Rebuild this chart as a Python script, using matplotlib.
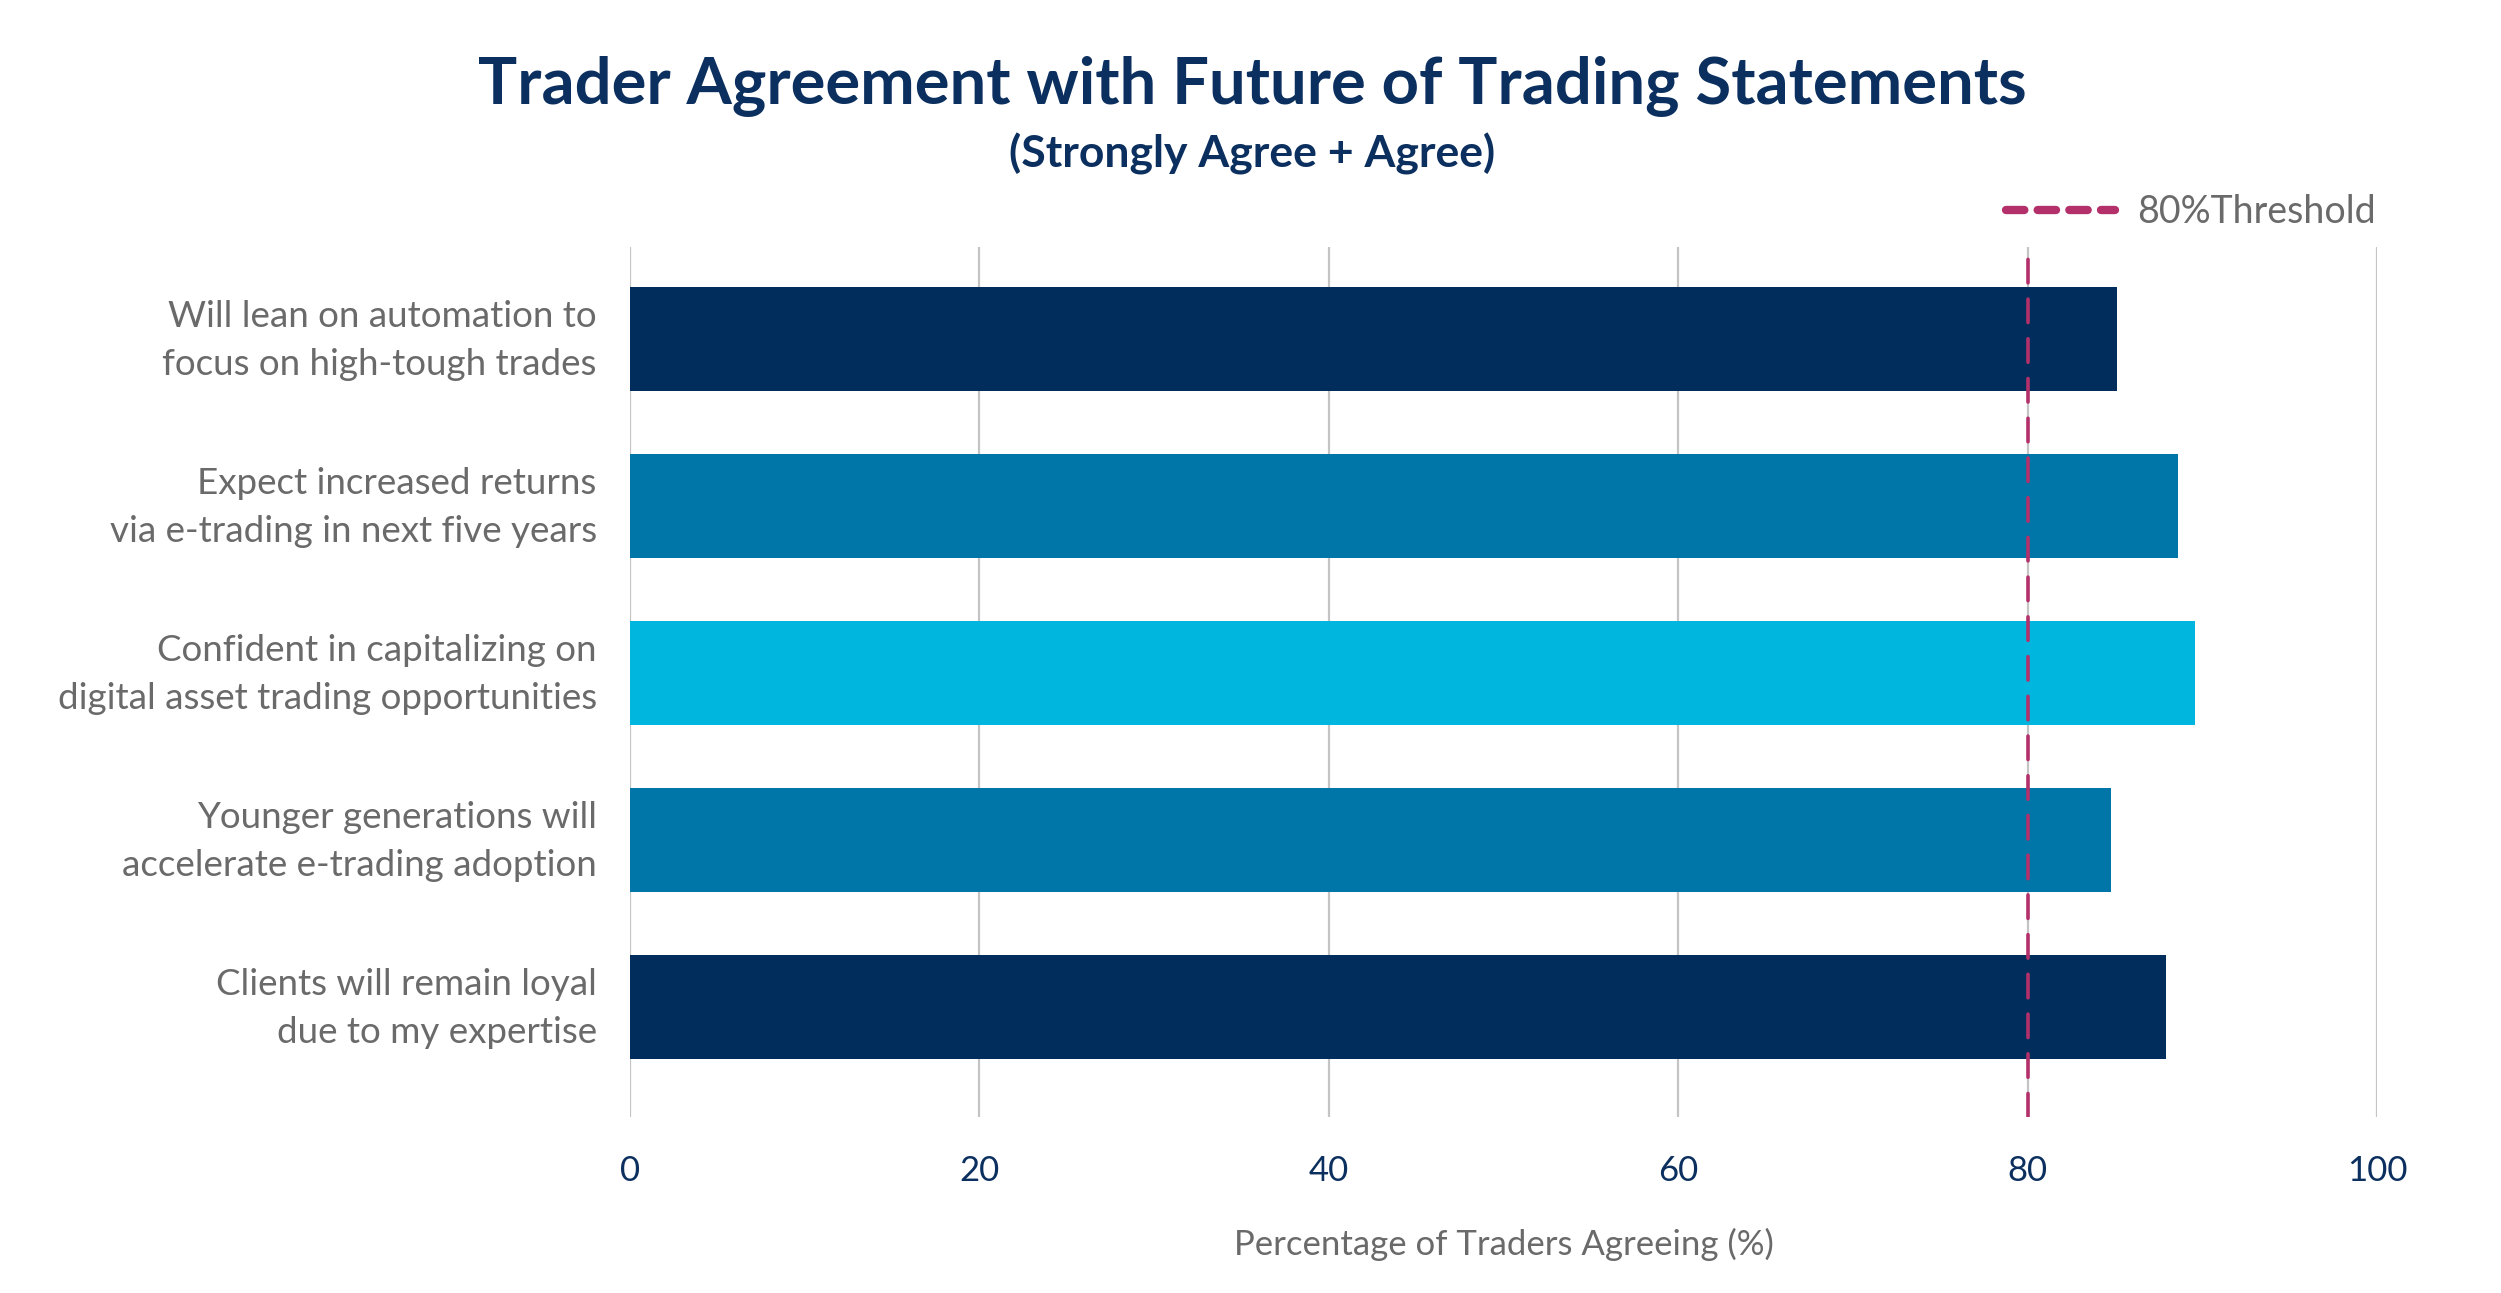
import matplotlib.pyplot as plt
import matplotlib.transforms as mtransforms
from matplotlib.lines import Line2D

plt.rcParams['font.family'] = ['Lato', 'DejaVu Sans']

# data
statements = [
    'Will lean on automation to\nfocus on high-tough trades',
    'Expect increased returns\nvia e-trading in next five years',
    'Confident in capitalizing on\ndigital asset trading opportunities',
    'Younger generations will\naccelerate e-trading adoption',
    'Clients will remain loyal\ndue to my expertise',
]
agree_pct = [85.1, 88.6, 89.6, 84.8, 87.9]
bar_colors = ['#002D5B', '#0075A8', '#00B5DE', '#0075A8', '#002D5B']
threshold = 80
x_ticks = [0, 20, 40, 60, 80, 100]

navy = '#0B2F5E'
grey_txt = '#6A6A6A'
magenta = '#B3306B'

fig = plt.figure(figsize=(25.01, 12.93), dpi=100)
ax = fig.add_axes([0.2519, 0.1361, 0.6985, 0.6729])

ypos = list(range(len(statements)))
ax.barh(ypos, agree_pct, height=0.62, color=bar_colors, zorder=3)

ax.set_xlim(0, 100)
ax.set_ylim(4.66, -0.55)
ax.set_xticks(x_ticks)
ax.set_xticklabels([str(t) for t in x_ticks], color=navy, fontsize=25)
ax.set_yticks(ypos)
ax.set_yticklabels(statements, color=grey_txt, fontsize=26.5, linespacing=1.55,
                   ha='right')
ax.tick_params(axis='both', length=0)
ax.tick_params(axis='x', pad=27)
ax.tick_params(axis='y', pad=24)

# nudge the two-line labels up a little
shift = mtransforms.ScaledTranslation(0, 0.09, fig.dpi_scale_trans)
for lab in ax.get_yticklabels():
    lab.set_transform(lab.get_transform() + shift)

for s in ax.spines.values():
    s.set_visible(False)
ax.grid(axis='x', color='#C4C4C4', linewidth=1.6, zorder=0)
ax.set_axisbelow(True)

ax.axvline(threshold, color=magenta, linewidth=2.6, linestyle=(0, (6.5, 4.5)),
           dash_capstyle='round', zorder=4)

ax.set_xlabel('Percentage of Traders Agreeing (%)', color=grey_txt,
              fontsize=25, labelpad=30)

proxy = Line2D([0], [0], color=magenta, linewidth=6, linestyle=(0, (2.2, 1.6)),
               dash_capstyle='round')
leg = ax.legend([proxy], ['80%Threshold'], loc='lower right',
                bbox_to_anchor=(1.006, 1.006), frameon=False, fontsize=27,
                handlelength=2.9, handletextpad=0.6, borderaxespad=0.1,
                borderpad=0.2)
for t in leg.get_texts():
    t.set_color(grey_txt)

fig.text(0.5006, 0.933, 'Trader Agreement with Future of Trading Statements',
         ha='center', va='center', fontsize=47, fontweight='bold', color=navy)
fig.text(0.5006, 0.881, '(Strongly Agree + Agree)', ha='center', va='center',
         fontsize=32, fontweight='bold', color=navy)

fig.savefig('out.png', dpi=100, facecolor='white')
